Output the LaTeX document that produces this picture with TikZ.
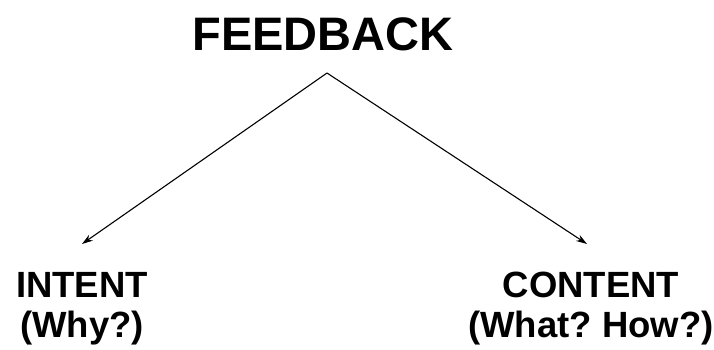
\documentclass[tikz,border=0pt]{standalone}
\usepackage{fontspec}
\setmainfont{Liberation Sans}
\usetikzlibrary{arrows.meta}
\frenchspacing
\begin{document}
\begin{tikzpicture}[x=1pt,y=1pt,
  heading/.style={font=\fontsize{47}{56}\selectfont\bfseries, inner sep=0pt},
  branch/.style={font=\fontsize{36.5}{40}\selectfont\bfseries, align=center, inner sep=0pt},
  link/.style={line width=1.1pt, -{Stealth[length=11pt,width=7pt]}}]
  \useasboundingbox (0,0) rectangle (714,-349);
  \node[heading, anchor=base] (fb) at (323,-50) {FEEDBACK};
  \node[branch, anchor=base] (intent) at (82,-337) {INTENT\\(Why?)};
  \node[branch, anchor=base] (content) at (591,-337) {CONTENT\\(What? How?)};
  \coordinate (apex) at (327,-73);
  \coordinate (lt) at (82,-244);
  \coordinate (rt) at (587,-244);
  \draw[link] (apex) -- (lt);
  \draw[link] (apex) -- (rt);
\end{tikzpicture}
\end{document}
